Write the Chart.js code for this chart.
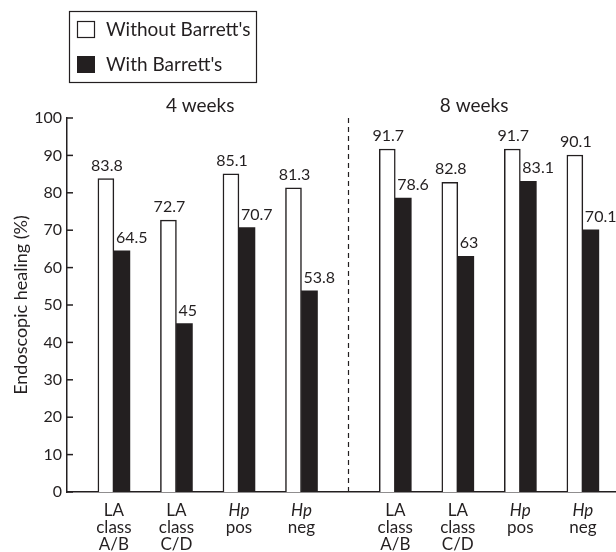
<!DOCTYPE html>
<html>
<head>
<meta charset="utf-8">
<script src="https://cdn.jsdelivr.net/npm/chart.js@4"></script>
<style>
  html, body { margin: 0; padding: 0; background: #fff; }
  canvas { display: block; }
</style>
</head>
<body>
<canvas id="bar-chart" width="616" height="552"></canvas>
<script>
// healing rates, 4 and 8 weeks, with / without Barrett's

const weeks = ['4 weeks', '8 weeks'];
const categories = [['LA', 'class', 'A/B'], ['LA', 'class', 'C/D'], ['Hp', 'pos'], ['Hp', 'neg']];
const withoutBarretts = [83.8, 72.7, 85.1, 81.3, 91.7, 82.8, 91.7, 90.1];
const withBarretts = [64.5, 45, 70.7, 53.8, 78.6, 63, 83.1, 70.1];
const seriesNames = ["Without Barrett's", "With Barrett's"];
const yLabel = 'Endoscopic healing (%)';

const ink = '#231f20';
const FONT = 'Lato, "Liberation Sans", sans-serif';

// slot on the x axis: the 8 weeks group starts after a half slot gap
const slot = i => i + 1 + (i >= categories.length ? 0.5 : 0);
const points = values => values.map((v, i) => ({ x: slot(i), y: v }));

/* everything the library has no option for */
const decor = {
  id: 'decor',
  afterDraw(chart) {
    const c = chart.ctx;
    const xs = chart.scales.x, ys = chart.scales.y;
    c.save();
    c.fillStyle = ink;
    c.strokeStyle = ink;

    // legend
    c.lineWidth = 1.2;
    c.strokeRect(69.5, 11.5, 187, 71);
    c.strokeRect(77.5, 21.5, 17, 16);
    c.fillRect(77, 56, 18, 17);
    c.font = `19px ${FONT}`;
    c.textAlign = 'left';
    c.textBaseline = 'alphabetic';
    c.fillText(seriesNames[0], 106, 36);
    c.fillText(seriesNames[1], 106, 71);

    // group titles
    c.font = `19px ${FONT}`;
    c.textAlign = 'center';
    c.fillText(weeks[0], xs.getPixelForValue(2.38), 112);
    c.fillText(weeks[1], xs.getPixelForValue(6.76), 112);

    // dashed separator
    const sx = Math.round(xs.getPixelForValue((slot(3) + slot(4)) / 2)) + 0.5;
    c.lineWidth = 1.2;
    c.setLineDash([5, 4]);
    c.beginPath();
    c.moveTo(sx, ys.getPixelForValue(100));
    c.lineTo(sx, ys.getPixelForValue(0));
    c.stroke();
    c.setLineDash([]);

    // inward y ticks
    c.lineWidth = 1.5;
    for (let v = 0; v <= 100; v += 10) {
      const y = ys.getPixelForValue(v);
      c.beginPath();
      c.moveTo(xs.left, y);
      c.lineTo(xs.left + 6, y);
      c.stroke();
    }

    // value labels
    c.font = `16px ${FONT}`;
    c.textBaseline = 'alphabetic';
    chart.getDatasetMeta(0).data.forEach((bar, i) => {
      c.textAlign = 'center';
      c.fillText(String(withoutBarretts[i]), bar.x + 1, bar.y - 8);
    });
    chart.getDatasetMeta(1).data.forEach((bar, i) => {
      c.textAlign = 'left';
      c.fillText(String(withBarretts[i]), bar.x - bar.width / 2 + 2, bar.y - 8);
    });

    // category labels
    c.textAlign = 'center';
    withoutBarretts.forEach((v, i) => {
      const lines = categories[i % categories.length];
      const x = xs.getPixelForValue(slot(i));
      lines.forEach((t, k) => {
        c.font = (t === 'Hp' ? 'italic ' : '') + `17px ${FONT}`;
        c.fillText(t, x, 516 + k * 17);
      });
    });
    c.restore();
  }
};

new Chart(document.getElementById('bar-chart'), {
  type: 'bar',
  data: {
    datasets: [{
      label: seriesNames[0],
      data: points(withoutBarretts),
      backgroundColor: '#ffffff',
      borderColor: ink,
      borderWidth: 1.5,
      barThickness: 16
    }, {
      label: seriesNames[1],
      data: points(withBarretts),
      backgroundColor: ink,
      borderColor: ink,
      borderWidth: 0,
      barThickness: 16
    }]
  },
  options: {
    responsive: false,
    animation: false,
    layout: { padding: { top: 118, right: 0, bottom: 0, left: 0 } },
    plugins: { legend: { display: false }, tooltip: { enabled: false } },
    scales: {
      x: {
        type: 'linear',
        min: 0.25,
        max: 9.03,
        offset: false,
        ticks: { display: false },
        grid: { display: false },
        border: { color: ink, width: 1.5 },
        afterFit: s => { s.height = 60; }
      },
      y: {
        min: 0,
        max: 100,
        ticks: { stepSize: 10, padding: 5, color: ink, font: { family: FONT, size: 16 } },
        grid: { display: false, drawTicks: false },
        border: { color: ink, width: 1.5 },
        title: { display: true, text: yLabel, color: ink, font: { family: FONT, size: 18 }, padding: { top: 10, bottom: 0 } },
        afterFit: s => { s.width = 67; }
      }
    }
  },
  plugins: [decor]
});
</script>
</body>
</html>
